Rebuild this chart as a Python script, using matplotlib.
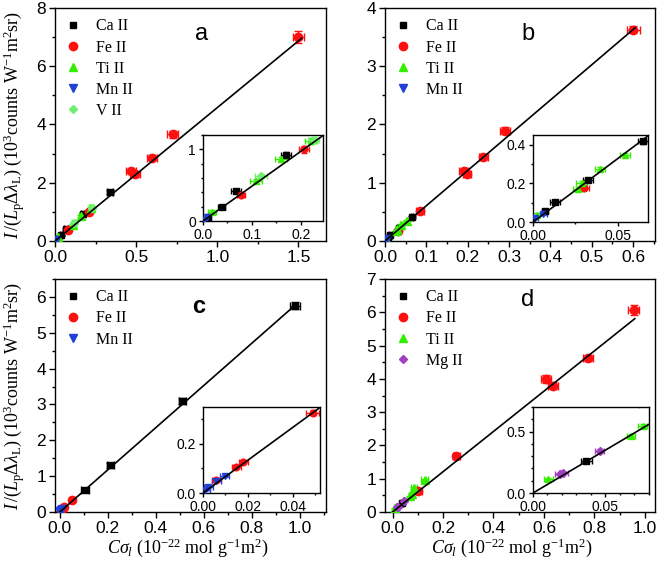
import numpy as np
import matplotlib
matplotlib.use('Agg')
import matplotlib.pyplot as plt
from matplotlib.ticker import MultipleLocator

plt.rcParams['font.family'] = ['Liberation Sans', 'DejaVu Sans']
plt.rcParams['mathtext.fontset'] = 'custom'
plt.rcParams['mathtext.rm'] = 'Liberation Serif'
plt.rcParams['mathtext.it'] = 'Liberation Serif:italic'
plt.rcParams['mathtext.bf'] = 'Liberation Serif:bold'

# ---- panel a ----
a_ca_x = [0.010, 0.038, 0.068, 0.170, 0.340]
a_ca_y = [0.06, 0.20, 0.42, 0.92, 1.68]
a_ca_xe = [0.004, 0.008, 0.010, 0.010, 0.020]
a_ca_ye = [0.01, 0.02, 0.03, 0.04, 0.06]
a_fe_x = [0.078, 0.207, 0.470, 0.495, 0.597, 0.725, 1.500]
a_fe_y = [0.36, 1.00, 2.40, 2.29, 2.86, 3.67, 7.00]
a_fe_xe = [0.008, 0.010, 0.030, 0.030, 0.030, 0.035, 0.035]
a_fe_ye = [0.03, 0.05, 0.08, 0.08, 0.09, 0.12, 0.20]
a_ti_x = [0.018, 0.109, 0.160, 0.220]
a_ti_y = [0.13, 0.56, 0.87, 1.12]
a_ti_xe = [0.008, 0.012, 0.012, 0.012]
a_ti_ye = [0.02, 0.03, 0.03, 0.04]
a_mn_x = [0.003, 0.008]
a_mn_y = [0.02, 0.05]
a_mn_xe = [0.006, 0.008]
a_mn_ye = [0.01, 0.01]
a_v_x = [0.119, 0.226]
a_v_y = [0.63, 1.13]
a_v_xe = [0.012, 0.012]
a_v_ye = [0.03, 0.04]
a_fit = [4.58, 0.0, 0.0, 1.52]      # slope, intercept, x start, x end
a_inset_fit = [4.87, 0.0]

# ---- panel b ----
b_ca_x = [0.0071, 0.013, 0.0327, 0.0651]
b_ca_y = [0.057, 0.104, 0.217, 0.417]
b_ca_xe = [0.002, 0.003, 0.003, 0.003]
b_ca_ye = [0.005, 0.006, 0.010, 0.015]
b_fe_x = [0.0303, 0.085, 0.190, 0.198, 0.238, 0.290, 0.601]
b_fe_y = [0.174, 0.51, 1.20, 1.15, 1.44, 1.89, 3.63]
b_fe_xe = [0.003, 0.010, 0.010, 0.010, 0.010, 0.012, 0.015]
b_fe_ye = [0.010, 0.03, 0.05, 0.05, 0.05, 0.06, 0.06]
b_ti_x = [0.0022, 0.0268, 0.0287, 0.0396, 0.0543]
b_ti_y = [0.035, 0.169, 0.200, 0.273, 0.348]
b_ti_xe = [0.002, 0.003, 0.003, 0.003, 0.003]
b_ti_ye = [0.01, 0.01, 0.01, 0.01, 0.01]
b_mn_x = [0.0012, 0.006]
b_mn_y = [0.020, 0.040]
b_mn_xe = [0.002, 0.002]
b_mn_ye = [0.005, 0.005]
b_fit = [6.05, 0.0, 0.0, 0.605]
b_inset_fit = [6.55, 0.0]

# ---- panel c ----
c_ca_x = [0.105, 0.21, 0.51, 0.98]
c_ca_y = [0.62, 1.30, 3.10, 5.75]
c_ca_xe = [0.015, 0.015, 0.015, 0.020]
c_ca_ye = [0.05, 0.06, 0.08, 0.10]
c_fe_x = [0.006, 0.0149, 0.0178, 0.0487]
c_fe_y = [0.054, 0.108, 0.128, 0.327]
c_fe_xe = [0.002, 0.002, 0.002, 0.003]
c_fe_ye = [0.005, 0.007, 0.007, 0.010]
c_mn_x = [0.001, 0.0023, 0.0060, 0.0097]
c_mn_y = [0.013, 0.024, 0.050, 0.070]
c_mn_xe = [0.002, 0.002, 0.002, 0.002]
c_mn_ye = [0.004, 0.004, 0.005, 0.005]
c_fit = [5.88, 0.0, 0.0, 0.985]
c_inset_fit = [6.7, 0.0]

# ---- panel d ----
d_ca_x = [0.0368]
d_ca_y = [0.26]
d_ca_xe = [0.004]
d_ca_ye = [0.01]
d_fe_x = [0.100, 0.253, 0.607, 0.636, 0.775, 0.955]
d_fe_y = [0.62, 1.67, 4.01, 3.80, 4.63, 6.08]
d_fe_xe = [0.015, 0.015, 0.020, 0.020, 0.020, 0.020]
d_fe_ye = [0.05, 0.07, 0.12, 0.10, 0.10, 0.15]
d_ti_x = [0.0105, 0.0676, 0.0756, 0.085, 0.127]
d_ti_y = [0.112, 0.467, 0.547, 0.72, 0.95]
d_ti_xe = [0.003, 0.003, 0.003, 0.012, 0.015]
d_ti_ye = [0.01, 0.015, 0.015, 0.03, 0.04]
d_mg_x = [0.0185, 0.0208, 0.0459]
d_mg_y = [0.153, 0.164, 0.342]
d_mg_xe = [0.003, 0.003, 0.003]
d_mg_ye = [0.010, 0.010, 0.015]
d_fit = [6.05, 0.0, 0.0, 0.96]
d_inset_fit = [7.0, 0.0]

styles = {
    'Ca II': ('s', 'black', 5),
    'Fe II': ('o', '#ff1010', 6),
    'Ti II': ('^', '#33ee00', 6),
    'Mn II': ('v', '#2040d8', 6),
    'V II': ('D', '#70f070', 4.5),
    'Mg II': ('D', '#a040c0', 4.5),
}

serif = 'Liberation Serif'
ylab = r'$I\,/(L_{\mathrm{p}}\Delta\lambda_{\mathrm{L}})\ (10^{3}\mathrm{counts\ W^{-1}m^{2}sr})$'
xlab = r'$C\sigma_{l}\ (10^{-22}\ \mathrm{mol\ g^{-1}m^{2}})$'


def style_axes(ax, labelsize, major, minor):
    ax.tick_params(which='both', direction='out', labelsize=labelsize, width=1)
    ax.tick_params(which='major', length=4)
    ax.tick_params(which='minor', length=2)
    ax.xaxis.set_major_locator(MultipleLocator(major[0]))
    ax.xaxis.set_minor_locator(MultipleLocator(minor[0]))
    ax.yaxis.set_major_locator(MultipleLocator(major[1]))
    ax.yaxis.set_minor_locator(MultipleLocator(minor[1]))
    for s in ax.spines.values():
        s.set_linewidth(1)


def draw_series(ax, series, cap, small=False):
    for name, x, y, xe, ye in series:
        m, c, ms = styles[name]
        ax.errorbar(x, y, xerr=xe, yerr=ye, fmt='none', ecolor=c,
                    elinewidth=1, capsize=cap, capthick=1, zorder=2)
        ax.plot(x, y, m, color=c, ms=ms * (0.8 if small else 1), ls='none',
                label=name, zorder=3)


def panel(ax, series, fit, xlim, ylim, major, minor, letter, letter_pos, bold=False):
    xs = np.array([fit[2], fit[3]])
    ax.plot(xs, fit[0] * xs + fit[1], color='black', lw=1.2, zorder=4)
    draw_series(ax, series, 3)
    ax.set_xlim(*xlim)
    ax.set_ylim(*ylim)
    style_axes(ax, 12.5, major, minor)
    ax.tick_params(which='major', pad=2.5)
    ax.legend(loc='upper left', prop={'family': serif, 'size': 11.5},
              frameon=False, handlelength=1.0, handletextpad=0.9,
              labelspacing=0.32, borderaxespad=0.25, borderpad=0.4)
    ax.text(letter_pos[0], letter_pos[1], letter, transform=ax.transAxes,
            fontsize=17, fontweight='bold' if bold else 'normal',
            ha='center', va='center')


def inset(fig, rect, series, fit, xlim, ylim, major, minor):
    ax = fig.add_axes(rect)
    xs = np.array([xlim[0], xlim[1]])
    ax.plot(xs, fit[0] * xs + fit[1], color='black', lw=1.2, zorder=4)
    draw_series(ax, series, 2, small=True)
    ax.set_xlim(*xlim)
    ax.set_ylim(*ylim)
    style_axes(ax, 10, major, minor)
    ax.tick_params(which='major', length=3, pad=2)
    ax.tick_params(which='minor', length=1.5)
    return ax


fig = plt.figure(figsize=(6.59, 5.65), dpi=100)

ser_a = [('Ca II', a_ca_x, a_ca_y, a_ca_xe, a_ca_ye),
         ('Fe II', a_fe_x, a_fe_y, a_fe_xe, a_fe_ye),
         ('Ti II', a_ti_x, a_ti_y, a_ti_xe, a_ti_ye),
         ('Mn II', a_mn_x, a_mn_y, a_mn_xe, a_mn_ye),
         ('V II', a_v_x, a_v_y, a_v_xe, a_v_ye)]
ser_b = [('Ca II', b_ca_x, b_ca_y, b_ca_xe, b_ca_ye),
         ('Fe II', b_fe_x, b_fe_y, b_fe_xe, b_fe_ye),
         ('Ti II', b_ti_x, b_ti_y, b_ti_xe, b_ti_ye),
         ('Mn II', b_mn_x, b_mn_y, b_mn_xe, b_mn_ye)]
ser_c = [('Ca II', c_ca_x, c_ca_y, c_ca_xe, c_ca_ye),
         ('Fe II', c_fe_x, c_fe_y, c_fe_xe, c_fe_ye),
         ('Mn II', c_mn_x, c_mn_y, c_mn_xe, c_mn_ye)]
ser_d = [('Ca II', d_ca_x, d_ca_y, d_ca_xe, d_ca_ye),
         ('Fe II', d_fe_x, d_fe_y, d_fe_xe, d_fe_ye),
         ('Ti II', d_ti_x, d_ti_y, d_ti_xe, d_ti_ye),
         ('Mg II', d_mg_x, d_mg_y, d_mg_xe, d_mg_ye)]

ax_a = fig.add_axes([0.0835, 0.5735, 0.4112, 0.4123])
panel(ax_a, ser_a, a_fit, (0, 1.67), (0, 8), (0.5, 2), (0.25, 1), 'a', (0.54, 0.89))
ax_a.set_ylabel(ylab, fontsize=13)
ax_a.yaxis.set_label_coords(-0.103, 0.5)

ax_b = fig.add_axes([0.5842, 0.5735, 0.4097, 0.4123])
panel(ax_b, ser_b, b_fit, (0, 0.653), (0, 4), (0.1, 1), (0.05, 0.5), 'b', (0.53, 0.89))

ax_c = fig.add_axes([0.0835, 0.0938, 0.4112, 0.4124])
panel(ax_c, ser_c, c_fit, (-0.02, 1.11), (0, 6.5), (0.2, 1), (0.1, 0.5), 'c', (0.53, 0.88), bold=True)
ax_c.set_ylabel(ylab, fontsize=13)
ax_c.yaxis.set_label_coords(-0.103, 0.5)
ax_c.set_xlabel(xlab, fontsize=13)
ax_c.xaxis.set_label_coords(0.49, -0.105)

ax_d = fig.add_axes([0.5842, 0.0938, 0.4097, 0.4124])
panel(ax_d, ser_d, d_fit, (-0.03, 1.04), (0, 7), (0.2, 1), (0.1, 0.5), 'd', (0.53, 0.91))
ax_d.set_xlabel(xlab, fontsize=13)
ax_d.xaxis.set_label_coords(0.47, -0.105)

inset(fig, [0.308, 0.6088, 0.182, 0.152], ser_a, a_inset_fit, (0, 0.245), (0, 1.2), (0.1, 1), (0.05, 0.2))
inset(fig, [0.8088, 0.607, 0.1745, 0.154], ser_b, b_inset_fit, (0, 0.068), (0, 0.45), (0.05, 0.2), (0.025, 0.1))
inset(fig, [0.308, 0.1274, 0.1775, 0.152], ser_c, c_inset_fit, (0, 0.052), (0, 0.35), (0.02, 0.2), (0.01, 0.1))
inset(fig, [0.8088, 0.1274, 0.176, 0.152], ser_d, d_inset_fit, (0, 0.08), (0, 0.7), (0.05, 0.5), (0.01, 0.1))

fig.savefig('out.png', dpi=100)
